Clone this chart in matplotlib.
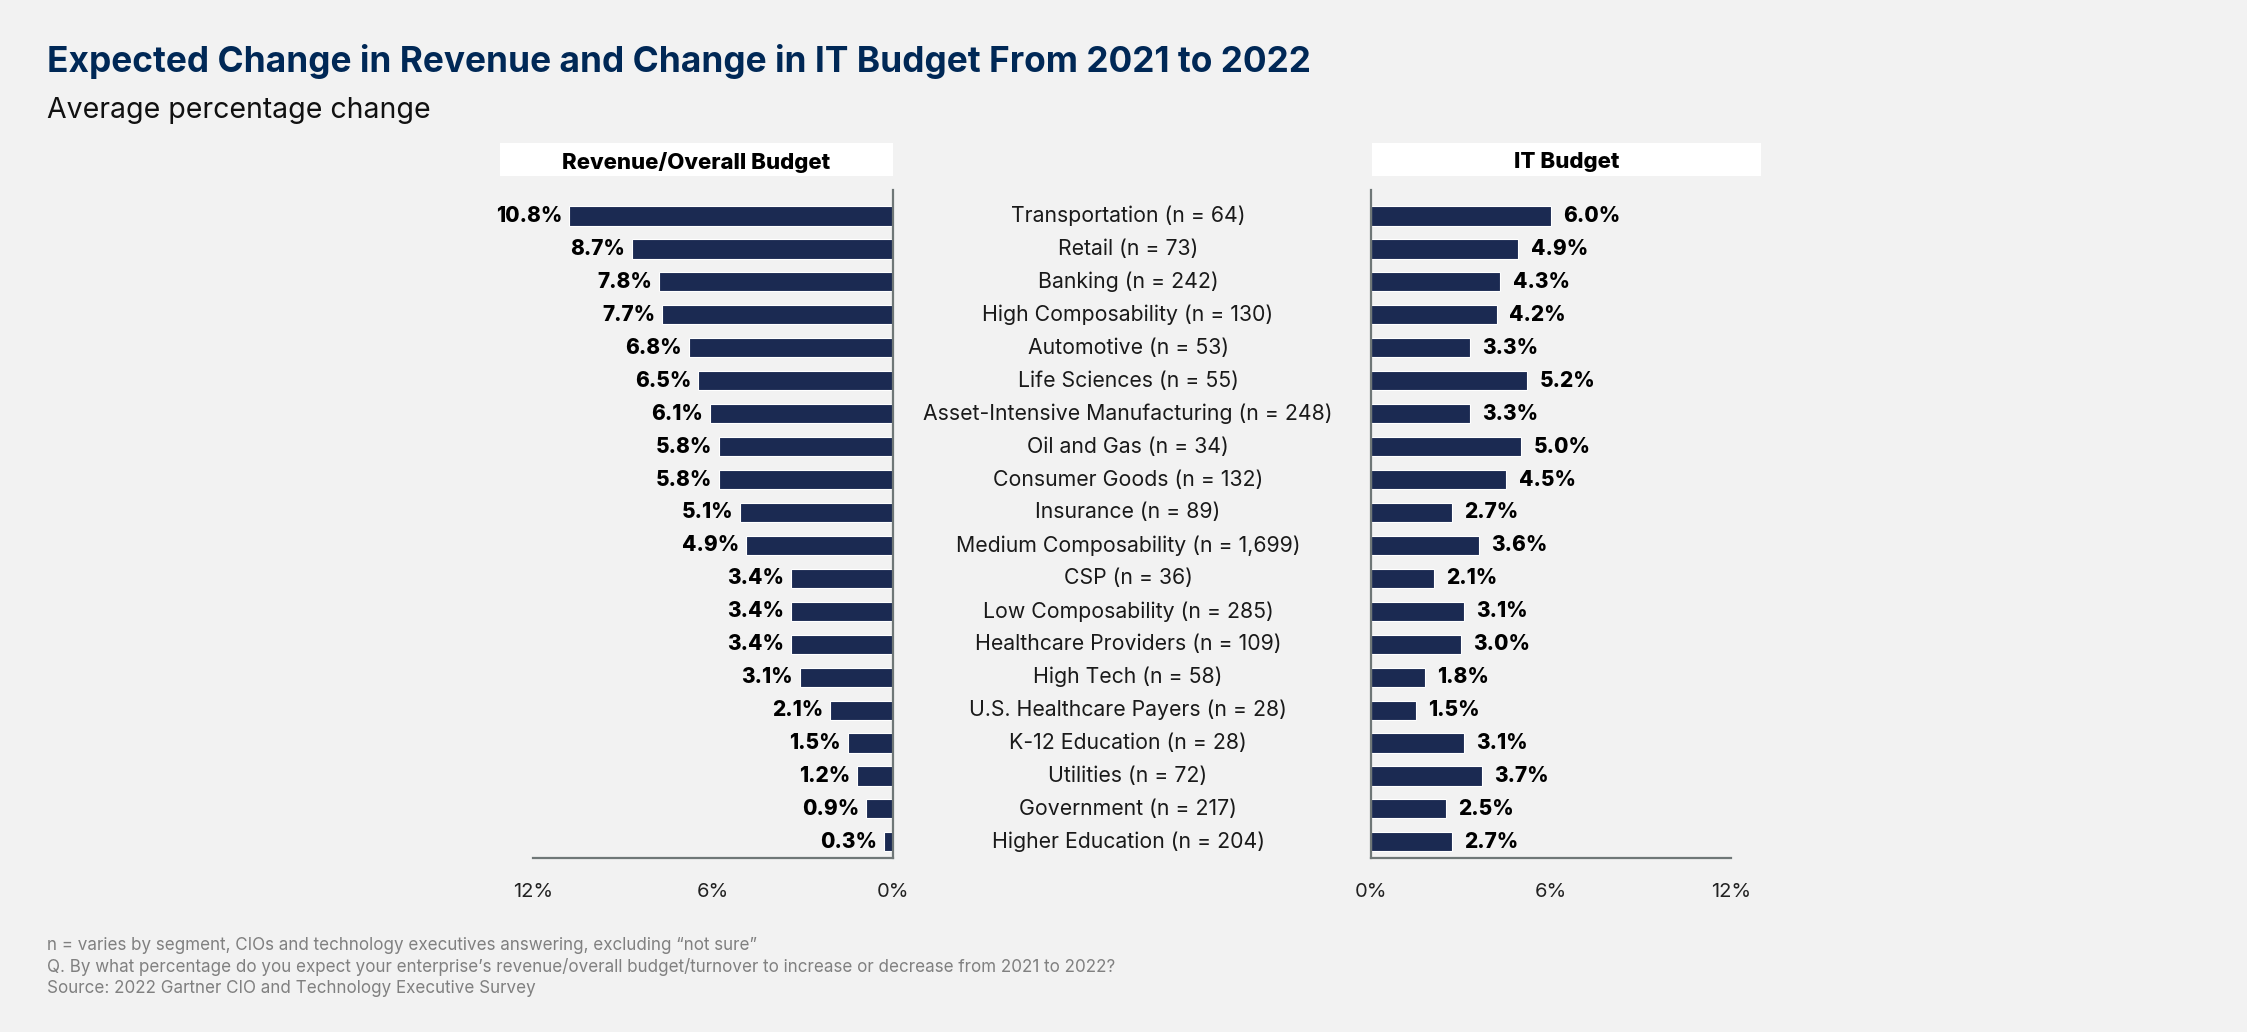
import matplotlib
matplotlib.use("Agg")
import matplotlib.pyplot as plt
from matplotlib.patches import Rectangle
from matplotlib.transforms import blended_transform_factory

categories = [
    "Transportation (n = 64)", "Retail (n = 73)", "Banking (n = 242)",
    "High Composability (n = 130)", "Automotive (n = 53)", "Life Sciences (n = 55)",
    "Asset-Intensive Manufacturing (n = 248)", "Oil and Gas (n = 34)",
    "Consumer Goods (n = 132)", "Insurance (n = 89)", "Medium Composability (n = 1,699)",
    "CSP (n = 36)", "Low Composability (n = 285)", "Healthcare Providers (n = 109)",
    "High Tech (n = 58)", "U.S. Healthcare Payers (n = 28)", "K-12 Education (n = 28)",
    "Utilities (n = 72)", "Government (n = 217)", "Higher Education (n = 204)",
]
revenue = [10.8, 8.7, 7.8, 7.7, 6.8, 6.5, 6.1, 5.8, 5.8, 5.1,
           4.9, 3.4, 3.4, 3.4, 3.1, 2.1, 1.5, 1.2, 0.9, 0.3]
it_budget = [6.0, 4.9, 4.3, 4.2, 3.3, 5.2, 3.3, 5.0, 4.5, 2.7,
             3.6, 2.1, 3.1, 3.0, 1.8, 1.5, 3.1, 3.7, 2.5, 2.7]
xticks = [0, 6, 12]
xtick_labels = ["0%", "6%", "12%"]

W, H = 2247, 1032
BG = "#f2f2f2"
NAVY = "#1b2a52"
TITLE = "#002856"
AXIS = "#6f7777"
FONT = "Inter"

plt.rcParams["font.family"] = [FONT, "DejaVu Sans"]

fig = plt.figure(figsize=(W / 100, H / 100), dpi=100, facecolor=BG)


def px(x, y):
    return x / W, 1 - y / H


def box(x0, x1, y0, y1):
    return [x0 / W, 1 - y1 / H, (x1 - x0) / W, (y1 - y0) / H]


ax_l = fig.add_axes(box(533, 893, 190, 858), facecolor=BG)
ax_r = fig.add_axes(box(1371, 1731, 190, 858), facecolor=BG)

ypos = list(range(len(categories)))
for ax, vals in ((ax_l, revenue), (ax_r, it_budget)):
    ax.barh(ypos, vals, height=0.58, color=NAVY, edgecolor="white", linewidth=0.8)
    ax.set_ylim(len(categories) - 0.51, -0.79)
    ax.set_xticks(xticks)
    ax.set_xticklabels(xtick_labels, fontsize=14.5, color="#222222")
    ax.tick_params(axis="x", length=0, pad=18)
    ax.set_yticks([])
    for s in ax.spines.values():
        s.set_visible(False)
    ax.spines["bottom"].set_visible(True)
    ax.spines["bottom"].set_color(AXIS)
    ax.spines["bottom"].set_linewidth(1.6)

ax_l.set_xlim(12, 0)
ax_l.spines["right"].set_visible(True)
ax_l.spines["right"].set_color(AXIS)
ax_l.spines["right"].set_linewidth(1.6)
ax_r.set_xlim(0, 12)
ax_r.spines["left"].set_visible(True)
ax_r.spines["left"].set_color(AXIS)
ax_r.spines["left"].set_linewidth(1.6)

for y, v in zip(ypos, revenue):
    ax_l.annotate(f"{v:.1f}%", (v, y), xytext=(-5, 0), textcoords="offset points",
                  ha="right", va="center", fontsize=15, fontweight="heavy", color="black")
for y, v in zip(ypos, it_budget):
    ax_r.annotate(f"{v:.1f}%", (v, y), xytext=(9, 0), textcoords="offset points",
                  ha="left", va="center", fontsize=15, fontweight="heavy", color="black")

# segment names sit between the two panels
mid = blended_transform_factory(fig.transFigure, ax_l.transData)
for y, name in zip(ypos, categories):
    ax_l.text(1128 / W, y, name, transform=mid, ha="center", va="center",
              fontsize=15.3, color="#1a1a1a", clip_on=False)

# panel headers on white strips
for (x0, x1), label in (((500, 893), "Revenue/Overall Budget"), ((1372, 1761), "IT Budget")):
    fig.patches.append(Rectangle(px(x0, 176), (x1 - x0) / W, 33 / H,
                                 transform=fig.transFigure, facecolor="white", edgecolor="none"))
    fig.text((x0 + x1) / 2 / W, 1 - 162 / H, label, ha="center", va="center",
             fontsize=16, fontweight="heavy", color="black")

fig.text(*px(47, 72), "Expected Change in Revenue and Change in IT Budget From 2021 to 2022",
         fontsize=25.4, fontweight="bold", color=TITLE, va="baseline")
fig.text(*px(47, 118), "Average percentage change", fontsize=20.5, color="#111111", va="baseline")

notes = [
    "n = varies by segment, CIOs and technology executives answering, excluding \u201cnot sure\u201d",
    "Q. By what percentage do you expect your enterprise\u2019s revenue/overall budget/turnover to increase or decrease from 2021 to 2022?",
    "Source: 2022 Gartner CIO and Technology Executive Survey",
]
for i, line in enumerate(notes):
    fig.text(*px(47, 950 + 21.5 * i), line, fontsize=12.25, color="#808080", va="baseline")

fig.savefig("out.png", dpi=100, facecolor=BG)
